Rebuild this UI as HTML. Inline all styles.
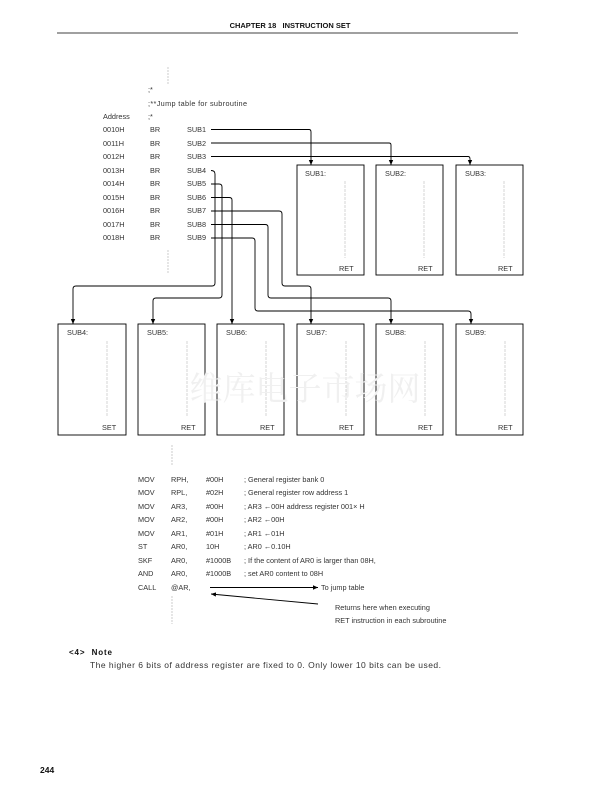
<!DOCTYPE html>
<html><head><meta charset="utf-8"><style>
html,body{margin:0;padding:0;background:#fff}
svg{display:block}
text{font-family:"Liberation Sans",sans-serif;fill:#333;font-size:7.3px}
</style></head><body>
<svg width="612" height="792" viewBox="0 0 612 792">
<defs><marker id="a" markerWidth="6" markerHeight="6" refX="5" refY="3" orient="auto" markerUnits="userSpaceOnUse"><path d="M0,0.8 L5,3 L0,5.2z" fill="#000"/></marker></defs>
<text x="290" y="28" text-anchor="middle" xml:space="preserve" style="font-weight:bold;font-size:7.5px;fill:#111">CHAPTER 18   INSTRUCTION SET</text>
<line x1="57" y1="33" x2="518" y2="33" stroke="#000" stroke-width="0.7"/>
<g stroke="#aaa" stroke-width="0.6" stroke-dasharray="2,1">
<line x1="168" y1="67" x2="168" y2="85"/>
<line x1="168" y1="250" x2="168" y2="274"/>
<line x1="172" y1="445" x2="172" y2="466"/>
<line x1="172" y1="596" x2="172" y2="624"/>
</g>
<text x="148" y="92">;*</text>
<text x="148" y="106" textLength="99">;**Jump table for subroutine</text>
<text x="103" y="119">Address</text><text x="148" y="119">;*</text>
<g>
<text x="103" y="132">0010H</text><text x="150" y="132">BR</text><text x="187" y="132">SUB1</text>
<text x="103" y="146">0011H</text><text x="150" y="146">BR</text><text x="187" y="146">SUB2</text>
<text x="103" y="159">0012H</text><text x="150" y="159">BR</text><text x="187" y="159">SUB3</text>
<text x="103" y="173">0013H</text><text x="150" y="173">BR</text><text x="187" y="173">SUB4</text>
<text x="103" y="186">0014H</text><text x="150" y="186">BR</text><text x="187" y="186">SUB5</text>
<text x="103" y="200">0015H</text><text x="150" y="200">BR</text><text x="187" y="200">SUB6</text>
<text x="103" y="213">0016H</text><text x="150" y="213">BR</text><text x="187" y="213">SUB7</text>
<text x="103" y="227">0017H</text><text x="150" y="227">BR</text><text x="187" y="227">SUB8</text>
<text x="103" y="240">0018H</text><text x="150" y="240">BR</text><text x="187" y="240">SUB9</text>
</g>
<g fill="none" stroke="#000" stroke-width="0.9" marker-end="url(#a)">
<path d="M211,129.5 H309 Q311,129.5 311,132 V165"/>
<path d="M211,143 H389 Q391,143 391,145 V165"/>
<path d="M211,156.5 H468 Q470,156.5 470,159 V165"/>
<path d="M211,170.5 Q215,170.5 215,174 V283 Q215,286 212,286 H76 Q73,286 73,289 V324"/>
<path d="M211,184 H219 Q222,184 222,187 V295 Q222,298 219,298 H156 Q153,298 153,301 V324"/>
<path d="M211,197.5 H229 Q232,197.5 232,200 V324"/>
<path d="M211,211 H279 Q282,211 282,214 V283 Q282,286 285,286 H308 Q311,286 311,289 V324"/>
<path d="M211,224.5 H265 Q268,224.5 268,227 V295 Q268,298 271,298 H388 Q391,298 391,301 V324"/>
<path d="M211,238 H252 Q255,238 255,241 V308 Q255,311 258,311 H468 Q471,311 471,314 V324"/>
</g>
<g fill="none" stroke="#000" stroke-width="0.9">
<rect x="297" y="165" width="67" height="110"/>
<rect x="376" y="165" width="67" height="110"/>
<rect x="456" y="165" width="67" height="110"/>
<rect x="58" y="324" width="68" height="111"/>
<rect x="138" y="324" width="67" height="111"/>
<rect x="217" y="324" width="67" height="111"/>
<rect x="297" y="324" width="67" height="111"/>
<rect x="376" y="324" width="67" height="111"/>
<rect x="456" y="324" width="67" height="111"/>
</g>
<g stroke="#bbb" stroke-width="0.6" stroke-dasharray="3,1">
<line x1="345" y1="181" x2="345" y2="258"/><line x1="424" y1="181" x2="424" y2="258"/><line x1="504" y1="181" x2="504" y2="258"/>
<line x1="107" y1="341" x2="107" y2="417"/><line x1="187" y1="341" x2="187" y2="417"/><line x1="266" y1="341" x2="266" y2="417"/>
<line x1="346" y1="341" x2="346" y2="417"/><line x1="425" y1="341" x2="425" y2="417"/><line x1="505" y1="341" x2="505" y2="417"/>
</g>
<text x="305" y="176">SUB1:</text><text x="385" y="176">SUB2:</text><text x="465" y="176">SUB3:</text>
<text x="339" y="271">RET</text><text x="418" y="271">RET</text><text x="498" y="271">RET</text>
<text x="67" y="335">SUB4:</text><text x="147" y="335">SUB5:</text><text x="226" y="335">SUB6:</text>
<text x="306" y="335">SUB7:</text><text x="385" y="335">SUB8:</text><text x="465" y="335">SUB9:</text>
<text x="102" y="430">SET</text><text x="181" y="430">RET</text><text x="260" y="430">RET</text>
<text x="339" y="430">RET</text><text x="418" y="430">RET</text><text x="498" y="430">RET</text>
<text x="305" y="400" text-anchor="middle" style="font-family:'Noto Serif CJK SC',serif;font-size:33px;fill:#f0f0f0">维库电子市场网</text>
<g>
<text x="138" y="482">MOV</text><text x="171" y="482">RPH,</text><text x="206" y="482">#00H</text><text x="244" y="482">; General register bank 0</text>
<text x="138" y="495">MOV</text><text x="171" y="495">RPL,</text><text x="206" y="495">#02H</text><text x="244" y="495">; General register row address 1</text>
<text x="138" y="509">MOV</text><text x="171" y="509">AR3,</text><text x="206" y="509">#00H</text><text x="244" y="509">; AR3 ←00H address register 001× H</text>
<text x="138" y="522">MOV</text><text x="171" y="522">AR2,</text><text x="206" y="522">#00H</text><text x="244" y="522">; AR2 ←00H</text>
<text x="138" y="536">MOV</text><text x="171" y="536">AR1,</text><text x="206" y="536">#01H</text><text x="244" y="536">; AR1 ←01H</text>
<text x="138" y="549">ST</text><text x="171" y="549">AR0,</text><text x="206" y="549">10H</text><text x="244" y="549">; AR0 ←0.10H</text>
<text x="138" y="563">SKF</text><text x="171" y="563">AR0,</text><text x="206" y="563">#1000B</text><text x="244" y="563">; If the content of AR0 is larger than 08H,</text>
<text x="138" y="576">AND</text><text x="171" y="576">AR0,</text><text x="206" y="576">#1000B</text><text x="244" y="576">; set AR0 content to 08H</text>
<text x="138" y="590">CALL</text><text x="171" y="590">@AR,</text>
<text x="321" y="590">To jump table</text>
<text x="335" y="610">Returns here when executing</text>
<text x="335" y="623">RET instruction in each subroutine</text>
</g>
<g stroke="#000" stroke-width="0.9" marker-end="url(#a)">
<line x1="210" y1="587.5" x2="318" y2="587.5"/>
<line x1="318" y1="604" x2="211" y2="594"/>
</g>
<text x="69" y="655" xml:space="preserve" textLength="43" style="font-weight:bold;font-size:8px;fill:#111">&lt;4&gt;  Note</text>
<text x="90" y="668" textLength="351" style="font-size:8.5px">The higher 6 bits of address register are fixed to 0.  Only lower 10 bits can be used.</text>
<text x="40" y="773" style="font-weight:bold;font-size:8.5px;fill:#111">244</text>
</svg>
</body></html>
